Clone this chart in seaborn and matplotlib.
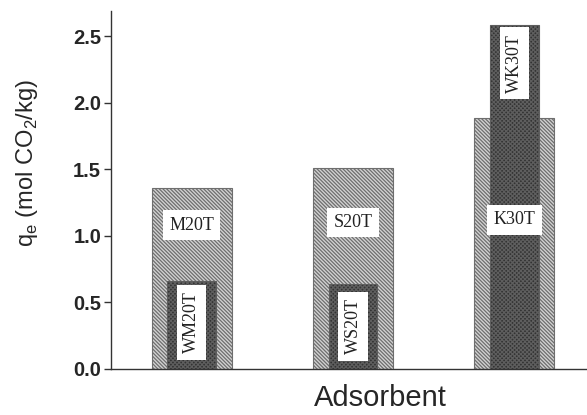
import matplotlib
matplotlib.use("Agg")
import matplotlib.pyplot as plt
import seaborn as sns
import pandas as pd

groups = ["M", "S", "K"]
wide_labels = ["M20T", "S20T", "K30T"]
wide_values = [1.36, 1.51, 1.89]
narrow_labels = ["WM20T", "WS20T", "WK30T"]
narrow_values = [0.66, 0.64, 2.59]
wide_label_y = [1.08, 1.10, 1.12]
narrow_label_y = [0.35, 0.32, 2.30]
yticks = [0.0, 0.5, 1.0, 1.5, 2.0, 2.5]

sns.set_theme(style="white")
plt.rcParams["font.family"] = ["Liberation Sans", "DejaVu Sans"]
plt.rcParams["hatch.linewidth"] = 0.9

wide_df = pd.DataFrame({"group": groups, "value": wide_values})
narrow_df = pd.DataFrame({"group": groups, "value": narrow_values})

fig = plt.figure(figsize=(5.87, 4.15), dpi=100)
ax = fig.add_axes([0.189, 0.111, 0.811, 0.862])

sns.barplot(data=wide_df, x="group", y="value", ax=ax, width=0.495,
            color="#d2d2d2", saturation=1, edgecolor="#6e6e6e", linewidth=0.8)
n_wide = len(ax.patches)
sns.barplot(data=narrow_df, x="group", y="value", ax=ax, width=0.30,
            color="#333333", saturation=1, edgecolor="#5e5e5e", linewidth=0.8)

for i, p in enumerate(ax.patches):
    if i < n_wide:
        p.set_hatch("\\" * 9)
    else:
        p.set_hatch("x" * 8)

box = dict(boxstyle="square,pad=0.35", facecolor="white", edgecolor="none")
for i, (lab, yv) in enumerate(zip(wide_labels, wide_label_y)):
    ax.text(i, yv, lab, ha="center", va="center", fontsize=13,
            family=["Liberation Serif"], color="#222222", bbox=box, zorder=5)
for i, (lab, yv) in enumerate(zip(narrow_labels, narrow_label_y)):
    ax.text(i, yv, lab, ha="center", va="center", fontsize=13, rotation=90,
            family=["Liberation Serif"], color="#222222", bbox=box, zorder=5)

ax.set_xlim(-0.50, 2.45)
ax.set_ylim(0, 2.69)
ax.set_yticks(yticks)
ax.set_yticklabels([f"{t:.1f}" for t in yticks], fontsize=14.5, fontweight="bold")
ax.set_xticks([])
ax.set_xlabel("Adsorbent", fontsize=21)
ax.xaxis.set_label_coords(0.565, -0.043, transform=ax.transAxes)
ax.xaxis.label.set_va("top")
ax.set_ylabel(r"q$_\mathregular{e}$ (mol CO$_\mathregular{2}$/kg)", fontsize=17)
ax.yaxis.set_label_coords(-0.149, 0.575, transform=ax.transAxes)
ax.tick_params(axis="y", direction="out", length=5, width=1, left=True, color="#333333", pad=2)
for s in ["top", "right"]:
    ax.spines[s].set_visible(False)
for s in ["left", "bottom"]:
    ax.spines[s].set_color("#333333")
    ax.spines[s].set_linewidth(1.0)

fig.savefig("out.png", dpi=100)
